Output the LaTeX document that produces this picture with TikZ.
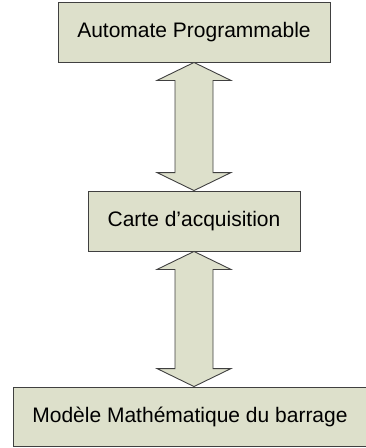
\documentclass[tikz,border=0pt]{standalone}
\usepackage{fontspec}
\setmainfont{Liberation Sans}
\usetikzlibrary{calc}
\definecolor{boxfill}{HTML}{DDE0CB}
\definecolor{boxline}{HTML}{404040}
\tikzset{
  blockbox/.style={draw=boxline, fill=boxfill, line width=0.9pt, inner sep=0pt,
    minimum height=60pt, font=\fontsize{21}{25}\selectfont, text=black},
  blockarrow/.style={draw=boxline, fill=boxfill, line width=0.9pt, line join=miter}
}
\begin{document}
\begin{tikzpicture}[x=1pt, y=-1pt]
\useasboundingbox (0,0) rectangle (366,448);
\node[blockbox, minimum width=272pt] (ap) at (194,32) {Automate Programmable};
\node[blockbox, minimum width=212pt] (ca) at (194,221) {Carte d’acquisition};
\node[blockbox, minimum width=358pt, minimum height=59pt] (mm) at (192,416.5) {\hspace*{-4pt}Modèle Mathématique du barrage};
% double-headed block arrows between the boxes
\foreach \a/\b in {ap/ca, ca/mm}{
  \draw[blockarrow] let \p1=(\a.south), \p2=(\b.north) in
    (194pt,\y1) -- (231pt,\y1-18pt) -- (213pt,\y1-18pt) -- (213pt,\y2+18pt)
    -- (231pt,\y2+18pt) -- (194pt,\y2) -- (157pt,\y2+18pt) -- (175pt,\y2+18pt)
    -- (175pt,\y1-18pt) -- (157pt,\y1-18pt) -- cycle;
}
\end{tikzpicture}
\end{document}
